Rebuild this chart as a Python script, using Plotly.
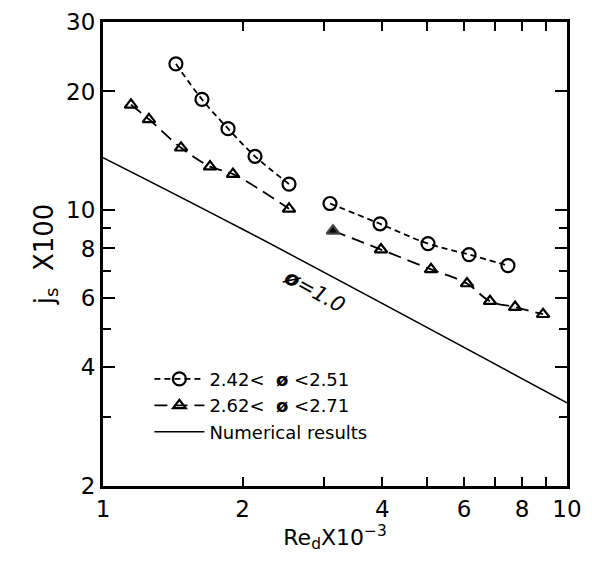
import plotly.graph_objects as go

# Series 1: 2.42 < phi < 2.51 (two data groups, gap between them)
re_c1 = [1.436, 1.634, 1.860, 2.126, 2.517]
js_c1 = [23.5, 19.1, 16.1, 13.7, 11.65]
re_c2 = [3.085, 3.954, 5.017, 6.150, 7.46]
js_c2 = [10.4, 9.24, 8.23, 7.72, 7.24]

# Series 2: 2.62 < phi < 2.71
re_t1 = [1.149, 1.256, 1.473, 1.701, 1.906, 2.517]
js_t1 = [18.5, 17.0, 14.4, 12.9, 12.35, 10.08]
re_t2 = [3.131, 3.973, 5.093, 6.088, 6.823, 7.73, 8.88]
js_t2 = [8.87, 7.95, 7.08, 6.52, 5.88, 5.68, 5.45]
filled_t2 = [True, False, False, False, False, False, False]

# Numerical results (phi = 1.0)
re_num = [1.0, 2.0, 10.0]
js_num = [13.6, 8.95, 3.25]

x_major = [1, 2, 4, 6, 8, 10]
x_minor = [3, 5, 7, 9]
y_major = [2, 4, 6, 8, 10, 20, 30]
y_minor = [3, 5, 7, 9]

PHI = "<b>\u00f8</b>"
label_c = f"2.42<  {PHI} <2.51"
label_t = f"2.62<  {PHI} <2.71"
label_n = "Numerical results"

FONT = "DejaVu Sans, Liberation Sans, sans-serif"

fig = go.Figure()

fig.add_trace(go.Scatter(
    x=re_c1 + [None] + re_c2, y=js_c1 + [None] + js_c2,
    mode="lines+markers", name=label_c, connectgaps=False,
    line=dict(color="black", width=1.8, dash="6px,4px", shape="spline"),
    marker=dict(symbol="circle-open", size=13, color="black", line=dict(width=2.2)),
))

sym_t2 = ["triangle-up" if f else "triangle-up-open" for f in filled_t2]
fig.add_trace(go.Scatter(
    x=re_t1 + [None] + re_t2, y=js_t1 + [None] + js_t2,
    mode="lines+markers", name=label_t, connectgaps=False,
    line=dict(color="black", width=1.8, dash="13px,7px", shape="spline"),
    marker=dict(symbol=["triangle-up-open"] * len(re_t1) + ["triangle-up-open"] + sym_t2,
                size=11, color="black", line=dict(width=2.2)),
))

fig.add_trace(go.Scatter(
    x=re_num, y=js_num, mode="lines", name=label_n,
    line=dict(color="black", width=1.5, shape="spline"),
))

fig.add_annotation(
    x=0.455, y=0.7945, xref="x", yref="y",
    text=f"<i>{PHI}=1.0</i>", showarrow=False, textangle=29,
    font=dict(family=FONT, size=21, color="black"),
)

axis_common = dict(
    type="log", showgrid=False, zeroline=False, automargin=False,
    showline=True, linecolor="black", linewidth=3, mirror="ticks",
    ticks="inside", tickcolor="black", tickwidth=2,
    ticklabeloverflow="allow",
    tickfont=dict(family=FONT, size=23, color="black"),
)

fig.update_xaxes(
    range=[0, 1], tickvals=x_major, ticktext=[str(v) for v in x_major], ticklen=9,
    minor=dict(tickvals=x_minor, ticks="inside", ticklen=9, tickcolor="black", tickwidth=2),
    title=dict(text="Re<sub>d</sub>X10<sup>\u22123</sup>", font=dict(family=FONT, size=22, color="black"), standoff=8),
    **axis_common,
)
fig.update_yaxes(
    range=[0.30103, 1.4771], tickvals=y_major, ticktext=[str(v) for v in y_major], ticklen=12,
    minor=dict(tickvals=y_minor, ticks="inside", ticklen=8, tickcolor="black", tickwidth=2),
    title=dict(text="j<sub>s</sub>  X100", font=dict(family=FONT, size=26, color="black"), standoff=6),
    **axis_common,
)

# page body has an 8px default margin, so the figure is drawn offset by 8px
fig.update_layout(
    width=584, height=565,
    margin=dict(l=95, r=25, t=14, b=87),
    paper_bgcolor="white", plot_bgcolor="white",
    showlegend=True,
    legend=dict(
        x=0.1, y=0.27, xanchor="left", yanchor="top",
        bgcolor="rgba(0,0,0,0)", borderwidth=0,
        font=dict(family=FONT, size=18, color="black"),
        itemwidth=50, tracegroupgap=0,
    ),
)

fig.write_html("out.html")
